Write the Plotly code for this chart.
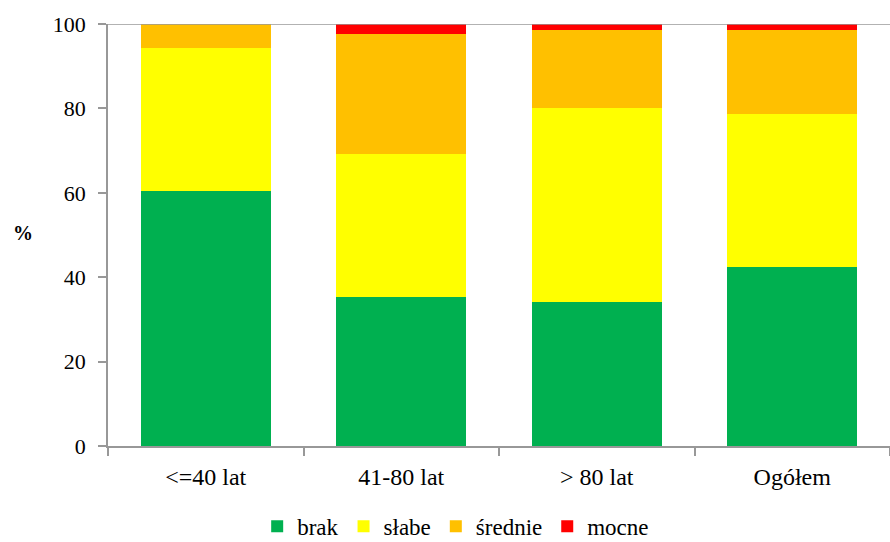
import plotly.graph_objects as go

categories = ["<=40 lat", "41-80 lat", "> 80 lat", "Ogółem"]
brak = [60.5, 35.2, 34.2, 42.5]
slabe = [33.7, 33.9, 45.8, 36.1]
srednie = [5.8, 28.5, 18.6, 19.9]
mocne = [0.0, 2.4, 1.4, 1.5]
series_names = ["brak", "słabe", "średnie", "mocne"]
colors = ["#00B050", "#FFFF00", "#FFC000", "#FF0000"]
yticks = [0, 20, 40, 60, 80, 100]

FONT = "Liberation Serif"
AX = "#989898"

fig = go.Figure()
for name, vals, col in zip(series_names, [brak, slabe, srednie, mocne], colors):
    fig.add_trace(go.Bar(x=categories, y=vals, name=name, marker=dict(color=col, line=dict(width=0)),
                         hoverinfo="x+y+name"))

fig.update_layout(
    barmode="stack",
    bargap=0.335,
    width=890, height=542,
    margin=dict(l=108, r=0, t=24, b=96, autoexpand=False),
    plot_bgcolor="white", paper_bgcolor="white",
    font=dict(family=FONT, size=22, color="#000000"),
    legend=dict(orientation="h", xref="container", x=0.512, xanchor="center", y=-0.19,
                yanchor="middle", font=dict(family=FONT, size=23, color="#000000"),
                itemwidth=30, traceorder="normal", itemsizing="constant"),
    xaxis=dict(showline=True, linecolor=AX, linewidth=1.5, ticks="outside", tickson="boundaries",
               ticklen=8, tickcolor=AX, tickwidth=1.5, showgrid=False, ticklabelstandoff=8,
               tickfont=dict(family=FONT, size=24, color="#000000")),
    yaxis=dict(range=[0, 100], tickvals=yticks, showline=True, linecolor=AX, linewidth=1.5,
               ticks="outside", ticklen=8, tickcolor=AX, tickwidth=1.5, showgrid=False,
               zeroline=False, ticklabelstandoff=8,
               tickfont=dict(family=FONT, size=22, color="#000000")),
    shapes=[dict(type="line", xref="paper", yref="y", x0=0, x1=1, y0=100, y1=100,
                 line=dict(color=AX, width=1.5))],
    annotations=[dict(text="<b>%</b>", xref="paper", yref="paper", x=-0.124, y=0.505,
                      showarrow=False, font=dict(family=FONT, size=20, color="#000000"))],
)

fig.write_html("out.html", config={"displayModeBar": False},
               post_script="document.body.style.margin='0';document.body.style.overflow='hidden';")
